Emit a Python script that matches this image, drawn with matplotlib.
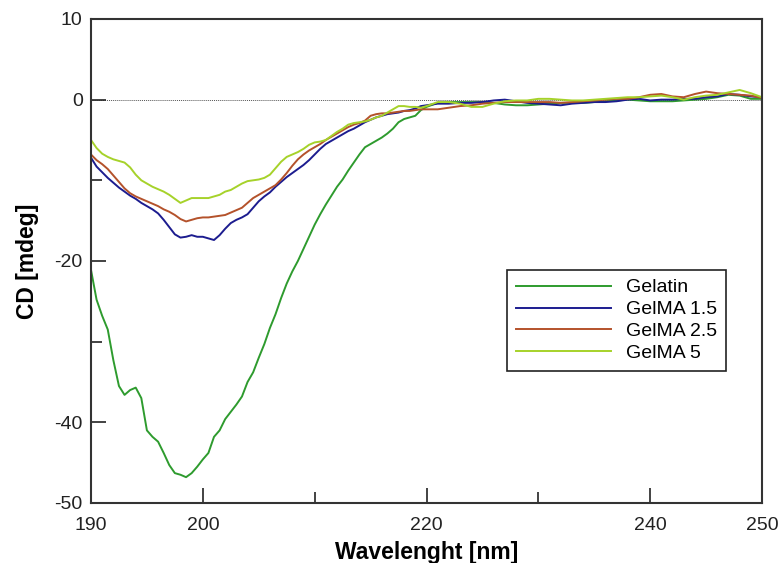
import numpy as np
import matplotlib
matplotlib.use("Agg")
import matplotlib.pyplot as plt
from matplotlib.ticker import FixedLocator

plt.rcParams['font.family'] = ['Liberation Sans', 'DejaVu Sans']
plt.rcParams['axes.unicode_minus'] = False

# wavelength grid: 0.5 nm steps 190-220, 1 nm steps 221-250
wavelength = list(np.arange(190.0, 220.01, 0.5)) + list(np.arange(221.0, 250.01, 1.0))

gelatin = [
    -21.1, -24.8, -26.8, -28.5, -32.3, -35.5, -36.6, -36.0, -35.7, -37.0,
    -41.0, -41.8, -42.4, -43.8, -45.3, -46.3, -46.5, -46.8, -46.3, -45.5,
    -44.6, -43.8, -41.8, -41.0, -39.6, -38.7, -37.8, -36.8, -35.0, -33.8,
    -32.0, -30.3, -28.3, -26.6, -24.6, -22.8, -21.3, -20.0, -18.5, -17.0,
    -15.5, -14.2, -13.0, -11.9, -10.8, -9.9, -8.8, -7.8, -6.8, -5.9,
    -5.5, -5.1, -4.7, -4.2, -3.6, -2.8, -2.4, -2.2, -2.0, -1.3, -0.9,
    -0.4, -0.3, -0.3, -0.3, -0.3, -0.4, -0.6, -0.7, -0.7, -0.6,
    -0.5, -0.4, -0.4, -0.4, -0.3, -0.2, -0.1, 0.0, -0.1, -0.2,
    -0.2, -0.2, -0.1, 0.0, 0.1, 0.3, 0.6, 0.5, 0.1, 0.1,
]
gelma_15 = [
    -7.2, -8.3, -9.0, -9.7, -10.3, -10.9, -11.4, -11.9, -12.3, -12.8,
    -13.2, -13.6, -14.1, -14.9, -15.8, -16.7, -17.1, -17.0, -16.8, -17.0,
    -17.0, -17.2, -17.4, -16.8, -16.0, -15.3, -14.9, -14.6, -14.2, -13.4,
    -12.6, -12.0, -11.5, -10.8, -10.2, -9.6, -9.1, -8.6, -8.1, -7.5,
    -6.8, -6.1, -5.5, -5.1, -4.7, -4.3, -3.9, -3.6, -3.2, -2.8,
    -2.5, -2.2, -2.0, -1.8, -1.7, -1.6, -1.4, -1.3, -1.1, -0.8, -0.7,
    -0.5, -0.5, -0.4, -0.4, -0.3, -0.1, 0.0, -0.2, -0.4, -0.5,
    -0.6, -0.7, -0.5, -0.4, -0.3, -0.3, -0.2, 0.0, 0.1, -0.1,
    0.0, 0.0, 0.1, 0.1, 0.3, 0.4, 0.7, 0.6, 0.4, 0.3,
]
gelma_25 = [
    -6.8, -7.5, -8.0, -8.6, -9.4, -10.2, -11.0, -11.6, -12.0, -12.3,
    -12.6, -12.9, -13.2, -13.6, -13.9, -14.3, -14.8, -15.1, -14.9, -14.7,
    -14.6, -14.6, -14.5, -14.4, -14.3, -14.0, -13.7, -13.4, -12.8, -12.2,
    -11.8, -11.4, -11.0, -10.6, -9.9, -9.1, -8.2, -7.4, -6.8, -6.3,
    -5.9, -5.5, -5.0, -4.6, -4.2, -3.8, -3.4, -3.1, -2.9, -2.6,
    -2.0, -1.8, -1.7, -1.7, -1.6, -1.5, -1.4, -1.4, -1.3, -1.2, -1.2,
    -1.2, -1.0, -0.8, -0.7, -0.5, -0.4, -0.3, -0.3, -0.3, -0.3,
    -0.3, -0.4, -0.3, -0.2, -0.1, 0.0, 0.1, 0.1, 0.3, 0.6,
    0.7, 0.4, 0.3, 0.7, 1.0, 0.8, 0.7, 0.6, 0.5, 0.2,
]
gelma_5 = [
    -5.0, -6.0, -6.7, -7.1, -7.4, -7.6, -7.8, -8.4, -9.3, -10.0,
    -10.4, -10.8, -11.1, -11.4, -11.8, -12.3, -12.8, -12.5, -12.2, -12.2,
    -12.2, -12.2, -12.0, -11.8, -11.4, -11.2, -10.8, -10.4, -10.1, -10.0,
    -9.9, -9.7, -9.3, -8.5, -7.7, -7.1, -6.8, -6.5, -6.1, -5.6,
    -5.3, -5.2, -5.0, -4.5, -4.0, -3.6, -3.1, -2.9, -2.8, -2.7,
    -2.5, -2.2, -2.0, -1.6, -1.2, -0.8, -0.8, -0.9, -0.9, -1.0, -0.8,
    -0.3, -0.3, -0.5, -0.9, -0.9, -0.5, -0.2, -0.1, -0.1, 0.1,
    0.1, 0.0, -0.1, -0.1, 0.0, 0.1, 0.2, 0.3, 0.3, 0.4,
    0.5, 0.3, 0.0, 0.3, 0.5, 0.6, 0.9, 1.2, 0.8, 0.3,
]

series_names = ["Gelatin", "GelMA 1.5", "GelMA 2.5", "GelMA 5"]
series_values = [gelatin, gelma_15, gelma_25, gelma_5]
series_colors = ["#2e9b2e", "#1c1c8f", "#b4522b", "#a6d22a"]

x_tick_labels = [190, 200, 220, 240, 250]
x_minor = [210, 230]
y_tick_labels = [10, 0, -20, -40, -50]
y_minor = [-10, -30]

fig = plt.figure(figsize=(7.79, 5.63), dpi=100)
ax = fig.add_axes([0.1168, 0.1066, 0.8614, 0.8597])

ax.axhline(0, color="#555555", linestyle=(0, (1, 1)), linewidth=0.7, zorder=1)
for name, vals, col in zip(series_names, series_values, series_colors):
    ax.plot(wavelength, vals, color=col, linewidth=1.4, label=name, zorder=2)

ax.set_xlim(190, 250)
ax.set_ylim(-50, 10)
ax.set_xticks(x_tick_labels)
ax.xaxis.set_minor_locator(FixedLocator(x_minor))
ax.set_yticks(y_tick_labels)
ax.yaxis.set_minor_locator(FixedLocator(y_minor))
ax.tick_params(which="major", direction="in", length=11, width=1.2, labelsize=14,
               colors="#222222")
ax.tick_params(axis="x", which="major", pad=10)
ax.tick_params(axis="y", which="major", pad=6)
ax.tick_params(which="minor", direction="in", length=8, width=1.2, colors="#222222")
for s in ax.spines.values():
    s.set_linewidth(1.5)
    s.set_color("#333333")

ax.set_xlabel("Wavelenght [nm]", fontsize=16.5, fontweight="bold", labelpad=5)
ax.set_ylabel("CD [mdeg]", fontsize=16.5, fontweight="bold", labelpad=11)

leg = ax.legend(loc="lower left", bbox_to_anchor=(0.62, 0.273), fontsize=14,
                frameon=True, fancybox=False, edgecolor="#222222", framealpha=1,
                handlelength=4.9, handletextpad=0.75, labelspacing=0.22,
                borderpad=0.45, borderaxespad=0)
leg.get_frame().set_linewidth(1.2)

fig.savefig("out.png", dpi=100)
